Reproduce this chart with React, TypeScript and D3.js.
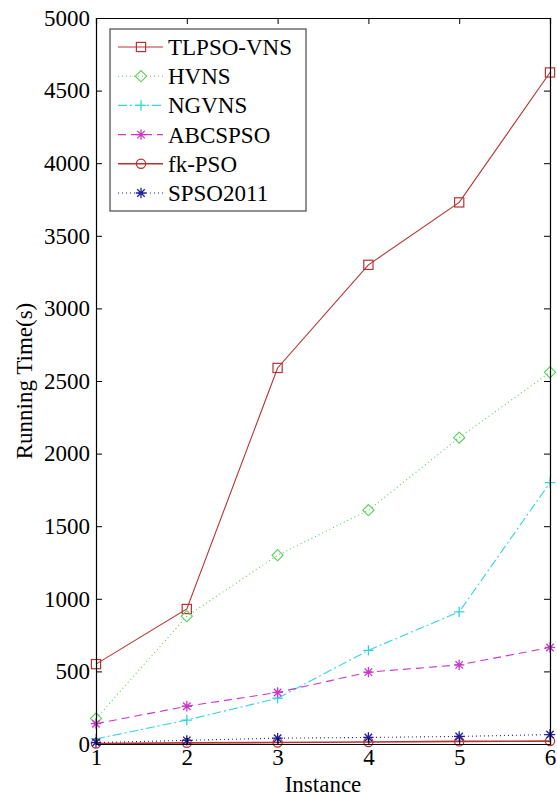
import React, { useEffect, useRef } from 'react';
import * as d3 from 'd3';

// Running time per instance
const instances = [1, 2, 3, 4, 5, 6];
const tlpsoVns = [550, 930, 2590, 3300, 3730, 4625];
const hvns = [175, 880, 1300, 1610, 2110, 2560];
const ngvns = [35, 165, 315, 645, 910, 1800];
const abcspso = [140, 260, 355, 495, 545, 665];
const fkPso = [3, 8, 10, 14, 18, 20];
const spso2011 = [10, 25, 40, 45, 52, 65];

const yTicks = [0, 500, 1000, 1500, 2000, 2500, 3000, 3500, 4000, 4500, 5000];

type Marker = 'square' | 'diamond' | 'plus' | 'star' | 'circle';

interface Series {
  name: string;
  values: number[];
  color: string;
  dash: string | null;
  marker: Marker;
  width: number;
}

const series: Series[] = [
  { name: 'TLPSO-VNS', values: tlpsoVns, color: '#b93232', dash: null, marker: 'square', width: 1.1 },
  { name: 'HVNS', values: hvns, color: '#55d055', dash: '1,3', marker: 'diamond', width: 1.1 },
  { name: 'NGVNS', values: ngvns, color: '#35d3e0', dash: '9,3,2,3', marker: 'plus', width: 1.1 },
  { name: 'ABCSPSO', values: abcspso, color: '#c936c9', dash: '8,5', marker: 'star', width: 1.1 },
  { name: 'fk-PSO', values: fkPso, color: '#b83030', dash: null, marker: 'circle', width: 1.6 },
  { name: 'SPSO2011', values: spso2011, color: '#1e1e9e', dash: '1,3', marker: 'star', width: 1.1 },
];

const FONT = 'Liberation Serif, Times New Roman, Times, DejaVu Serif, serif';

const drawMarker = (
  g: d3.Selection<SVGGElement, unknown, null, undefined>,
  kind: Marker,
  x: number,
  y: number,
  color: string
) => {
  const s = 4.6;
  if (kind === 'square') {
    g.append('rect').attr('x', x - s).attr('y', y - s).attr('width', 2 * s).attr('height', 2 * s)
      .attr('fill', 'none').attr('stroke', color).attr('stroke-width', 1.2);
  } else if (kind === 'circle') {
    g.append('circle').attr('cx', x).attr('cy', y).attr('r', s)
      .attr('fill', 'none').attr('stroke', color).attr('stroke-width', 1.2);
  } else if (kind === 'diamond') {
    const d = s + 1;
    g.append('path').attr('d', `M${x},${y - d}L${x + d},${y}L${x},${y + d}L${x - d},${y}Z`)
      .attr('fill', 'none').attr('stroke', color).attr('stroke-width', 1.1);
  } else {
    const d = s + 0.6;
    let p = `M${x - d},${y}L${x + d},${y}M${x},${y - d}L${x},${y + d}`;
    if (kind === 'star') {
      const k = d * 0.72;
      p += `M${x - k},${y - k}L${x + k},${y + k}M${x - k},${y + k}L${x + k},${y - k}`;
    }
    g.append('path').attr('d', p).attr('fill', 'none').attr('stroke', color).attr('stroke-width', 1.3);
  }
};

const RunningTimeChart: React.FC = () => {
  const svgRef = useRef<SVGSVGElement>(null);

  useEffect(() => {
    if (!svgRef.current) return;
    const el = svgRef.current;
    const totalWidth = 557;
    const totalHeight = 798;
    const margin = { top: 18, right: 7, bottom: 54, left: 96 };
    const width = totalWidth - margin.left - margin.right;
    const height = totalHeight - margin.top - margin.bottom;

    d3.select(el).selectAll('*').remove();

    const svg = d3
      .select(el)
      .append('g')
      .attr('font-family', FONT)
      .attr('transform', `translate(${margin.left},${margin.top})`);

    const xScale = d3.scaleLinear().domain([1, 6]).range([0, width]);
    const yScale = d3.scaleLinear().domain([0, 5000]).range([height, 0]);

    // series lines
    const line = d3
      .line<number>()
      .x((_, i) => xScale(instances[i]))
      .y((d) => yScale(d));

    series.forEach((s) => {
      svg
        .append('path')
        .datum(s.values)
        .attr('d', line)
        .attr('fill', 'none')
        .attr('stroke', s.color)
        .attr('stroke-width', s.width)
        .attr('stroke-dasharray', s.dash ?? null);
      const mg = svg.append('g');
      s.values.forEach((v, i) => drawMarker(mg, s.marker, xScale(instances[i]), yScale(v), s.color));
    });

    // axes box with MATLAB-style inward ticks
    const styleAxis = (g: d3.Selection<SVGGElement, unknown, null, undefined>) => {
      g.attr('font-family', FONT).attr('font-size', 23);
      g.select('.domain').attr('stroke', '#000').attr('stroke-width', 1.2);
      g.selectAll('.tick line').attr('stroke', '#000').attr('stroke-width', 1);
      g.selectAll('.tick text').attr('fill', '#000');
    };

    svg
      .append('g')
      .attr('transform', `translate(0,${height})`)
      .call(d3.axisBottom(xScale).tickValues(instances).tickFormat(d3.format('d')).tickSize(-6).tickPadding(5))
      .call(styleAxis);

    svg
      .append('g')
      .call(d3.axisTop(xScale).tickValues(instances).tickFormat(() => '').tickSize(-6))
      .call(styleAxis);

    svg
      .append('g')
      .call(d3.axisLeft(yScale).tickValues(yTicks).tickFormat(d3.format('d')).tickSize(-6).tickPadding(6))
      .call(styleAxis);

    svg
      .append('g')
      .attr('transform', `translate(${width},0)`)
      .call(d3.axisRight(yScale).tickValues(yTicks).tickFormat(() => '').tickSize(-6))
      .call(styleAxis);

    // axis titles
    svg
      .append('text')
      .attr('x', width / 2)
      .attr('y', height + 48)
      .attr('text-anchor', 'middle')
      .attr('font-size', 23)
      .text('Instance');

    svg
      .append('text')
      .attr('transform', `translate(${-margin.left + 32},${height / 2}) rotate(-90)`)
      .attr('text-anchor', 'middle')
      .attr('font-size', 23)
      .text('Running Time(s)');

    // legend
    const lg = svg.append('g').attr('transform', `translate(${110 - margin.left},${29 - margin.top})`);
    lg.append('rect')
      .attr('width', 196)
      .attr('height', 182)
      .attr('fill', '#fff')
      .attr('stroke', '#222')
      .attr('stroke-width', 1);
    series.forEach((s, i) => {
      const ly = 18 + i * 29.2;
      lg.append('line')
        .attr('x1', 8)
        .attr('x2', 53)
        .attr('y1', ly)
        .attr('y2', ly)
        .attr('stroke', s.color)
        .attr('stroke-width', s.width)
        .attr('stroke-dasharray', s.dash ?? null);
      drawMarker(lg, s.marker, 31, ly, s.color);
      lg.append('text')
        .attr('x', 58)
        .attr('y', ly)
        .attr('dy', '0.35em')
        .attr('font-size', 23)
        .attr('fill', '#000')
        .text(s.name);
    });
  }, []);

  return (
    <svg
      ref={svgRef}
      width={557}
      height={798}
      style={{ position: 'absolute', left: 0, top: 0, background: '#fff', fontFamily: FONT }}
    />
  );
};

export default function App() {
  return <RunningTimeChart />;
}
